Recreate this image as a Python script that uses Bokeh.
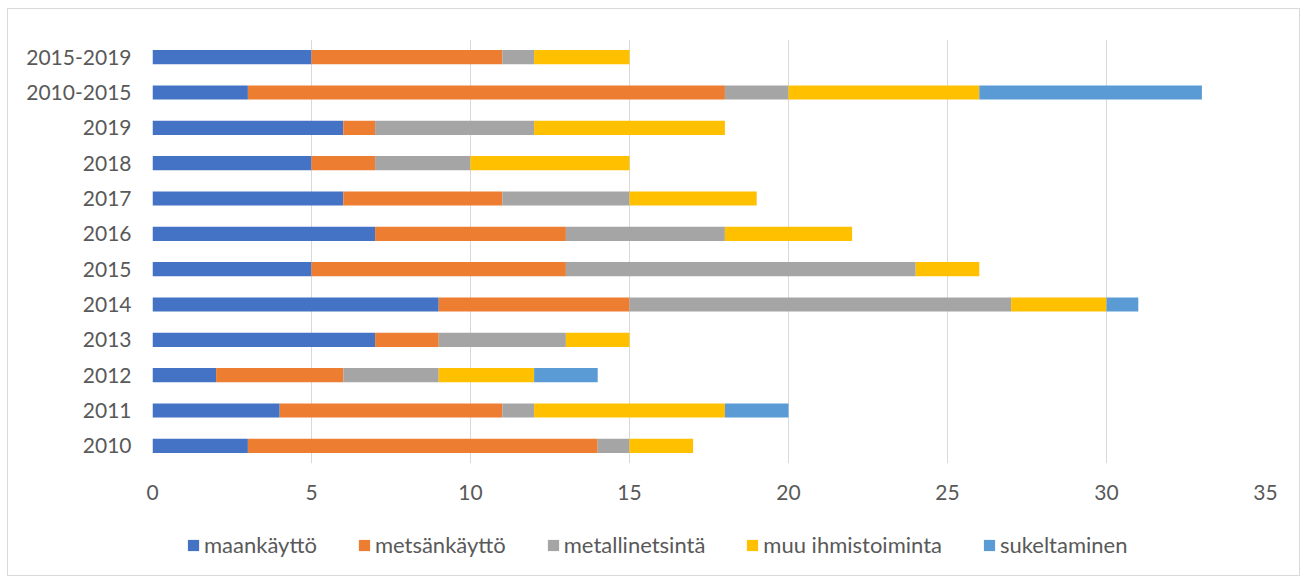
from bokeh.plotting import figure
from bokeh.layouts import column
from bokeh.models import Legend, LegendItem, ColumnDataSource, FixedTicker
from bokeh.embed import file_html
from bokeh.resources import INLINE

categories = ["2010", "2011", "2012", "2013", "2014", "2015", "2016", "2017",
              "2018", "2019", "2010-2015", "2015-2019"]
maankaytto = [3, 4, 2, 7, 9, 5, 7, 6, 5, 6, 3, 5]
metsankaytto = [11, 7, 4, 2, 6, 8, 6, 5, 2, 1, 15, 6]
metallinetsinta = [1, 1, 3, 4, 12, 11, 5, 4, 3, 5, 2, 1]
muu_ihmistoiminta = [2, 6, 3, 2, 3, 2, 4, 4, 5, 6, 6, 3]
sukeltaminen = [0, 2, 2, 0, 1, 0, 0, 0, 0, 0, 7, 0]

series_names = ["maankäyttö", "metsänkäyttö", "metallinetsintä", "muu ihmistoiminta", "sukeltaminen"]
series_keys = ["maa", "metsa", "metalli", "muu", "suk"]
colors = ["#4472C4", "#ED7D31", "#A5A5A5", "#FFC000", "#5B9BD5"]
x_ticks = [0, 5, 10, 15, 20, 25, 30, 35]

source = ColumnDataSource(dict(cat=categories, maa=maankaytto, metsa=metsankaytto,
                               metalli=metallinetsinta, muu=muu_ihmistoiminta, suk=sukeltaminen))

FONT = "Lato"
TEXT = "#595959"

p = figure(y_range=categories, x_range=(0, 35),
           frame_width=1113, frame_height=424,
           output_backend="svg", toolbar_location=None,
           min_border_left=144, min_border_right=34, min_border_top=30, min_border_bottom=62)

renderers = p.hbar_stack(series_keys, y="cat", height=0.4, color=colors, line_color=None, source=source)

p.outline_line_color = None
p.ygrid.grid_line_color = None
p.xgrid.grid_line_color = "#d9d9d9"
p.xgrid.grid_line_width = 1
p.xaxis.ticker = FixedTicker(ticks=x_ticks)
for ax in (p.xaxis[0], p.yaxis[0]):
    ax.axis_line_color = None
    ax.major_tick_line_color = None
    ax.minor_tick_line_color = None
    ax.major_label_text_font = FONT
    ax.major_label_text_font_size = "21px"
    ax.major_label_text_color = TEXT
p.xaxis.major_label_standoff = 15
p.yaxis.major_label_standoff = 15

# legend strip below the chart (same series, drawn outside its visible range)
lf = figure(width=1291, height=50, x_range=(0, 1), y_range=(0, 1),
            x_axis_type=None, y_axis_type=None, output_backend="svg", toolbar_location=None,
            min_border=0)
lf.outline_line_color = None
lf.grid.visible = False
leg_src = ColumnDataSource(dict(cat=[-5], maa=[maankaytto[0]], metsa=[metsankaytto[0]],
                                metalli=[metallinetsinta[0]], muu=[muu_ihmistoiminta[0]],
                                suk=[sukeltaminen[0]]))
dummy = lf.hbar_stack(series_keys, y="cat", height=0.4, color=colors, line_color=None, source=leg_src)
legend = Legend(items=[LegendItem(label=n, renderers=[r]) for n, r in zip(series_names, dummy)],
                orientation="horizontal", location=(34, 17),
                label_text_font=FONT, label_text_font_size="22px", label_text_color=TEXT,
                glyph_width=14, glyph_height=14, label_standoff=4, spacing=40,
                border_line_color=None, background_fill_alpha=0, padding=0, margin=0)
lf.add_layout(legend, "center")

layout = column(p, lf, spacing=0)
layout.styles = {"border": "1px solid #d9d9d9", "margin-left": "7px", "margin-top": "8px"}

open("out.html", "w").write(file_html(layout, INLINE))
